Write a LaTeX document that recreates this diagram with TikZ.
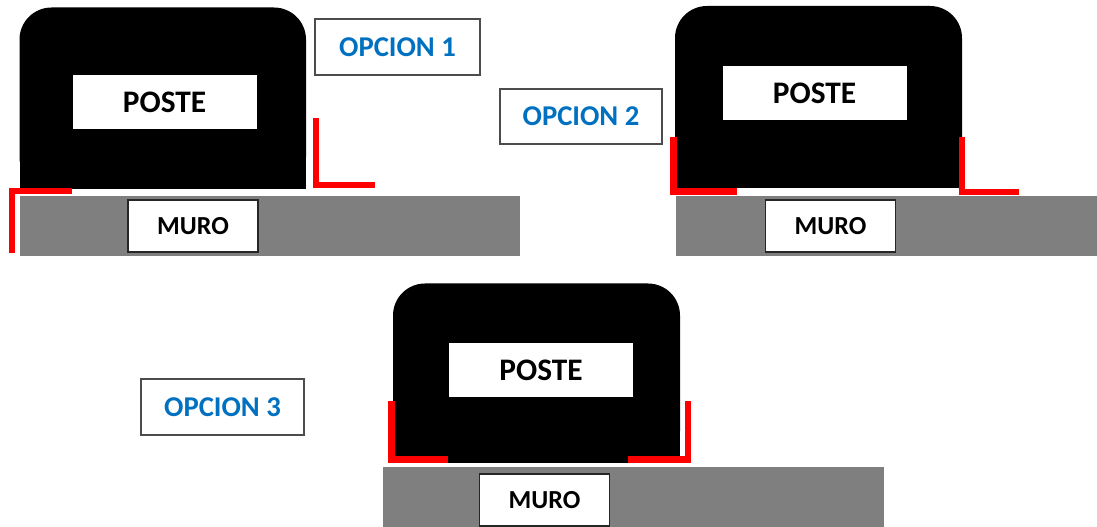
\documentclass[tikz,border=0pt]{standalone}
\usepackage{fontspec}
\setmainfont{Carlito}
\definecolor{grismuro}{RGB}{127,127,127}
\definecolor{azulop}{RGB}{0,112,192}

\tikzset{every picture/.style={line width=0.75pt}}
\tikzset{
  poste/.style={fill=black, rounded corners=24pt},
  muro/.style={fill=grismuro},
  escuadra/.style={draw=red, line width=5.2pt, line join=miter},
  rotposte/.style={fill=white, inner sep=0pt, minimum width=138pt, minimum height=40.5pt,
    font=\fontsize{23.5}{27}\selectfont\bfseries},
  rotmuro/.style={draw=black!85, line width=1.3pt, fill=white, inner sep=0pt, minimum width=97.5pt,
    minimum height=39pt, font=\fontsize{19.5}{23}\selectfont\bfseries},
  rotopcion/.style={draw=black!70, line width=1.3pt, fill=white, inner sep=0pt, minimum height=41.5pt,
    text=azulop, font=\fontsize{21.5}{25}\selectfont\bfseries}
}

\begin{document}
\begin{tikzpicture}[x=0.75pt,y=0.75pt,yscale=-1,xscale=1]
\useasboundingbox (0,0) rectangle (1097,527);

%%% OPCION 1
%Shape: Rectangle [muro 1]
\fill [muro] (20,196) rectangle (520,256);
%Shape: Rounded Rect [poste 1]
\fill [poste] (19.5,189) -- (19.5,7.5) -- (306,7.5) -- (306,189) -- cycle;
\fill (19.5,100) rectangle (306,189);
%Shape: Right Angle
\draw [escuadra] (316,118) -- (316,185) -- (375,185);
%Shape: Right Angle
\draw [escuadra] (71.5,191) -- (12,191) -- (12,253);
% Text Node
\node (poste1) at (164.5,102) [rotposte] {POSTE};
% Text Node
\node (muro1) at (193,226) [rotmuro] {MURO};
% Text Node
\node (opcion1) at (397.5,47) [rotopcion, minimum width=124pt] {OPCION 1};

%%% OPCION 2
%Shape: Rectangle [muro 2]
\fill [muro] (676,196) rectangle (1097,256);
%Shape: Rounded Rect [poste 2]
\fill [poste] (675,188) -- (675,6) -- (962,6) -- (962,188) -- cycle;
\fill (675,100) rectangle (962,188);
%Shape: Right Angle
\draw [escuadra] (673.5,137) -- (673.5,191.5) -- (737,191.5);
%Shape: Right Angle
\draw [escuadra] (962,137) -- (962,192) -- (1019,192);
% Text Node
\node (poste2) at (814.5,93.5) [rotposte] {POSTE};
% Text Node
\node (muro2) at (830.5,226) [rotmuro] {MURO};
% Text Node
\node (opcion2) at (581,116.5) [rotopcion, minimum width=121.5pt] {OPCION 2};

%%% OPCION 3
%Shape: Rectangle [muro 3]
\fill [muro] (383,467) rectangle (884,527);
%Shape: Rounded Rect [poste 3]
\fill [poste] (393,463) -- (393,283.5) -- (680,283.5) -- (680,463) -- cycle;
\fill (393,380) rectangle (680,463);
%Shape: Right Angle
\draw [escuadra] (391.5,401) -- (391.5,459.5) -- (448,459.5);
%Shape: Right Angle
\draw [escuadra] (628,459.5) -- (688,459.5) -- (688,401);
% Text Node
\node (poste3) at (541,370) [rotposte] {POSTE};
% Text Node
\node (muro3) at (544.5,500) [rotmuro] {MURO};
% Text Node
\node (opcion3) at (222.5,407) [rotopcion, minimum width=122pt] {OPCION 3};

\end{tikzpicture}
\end{document}
